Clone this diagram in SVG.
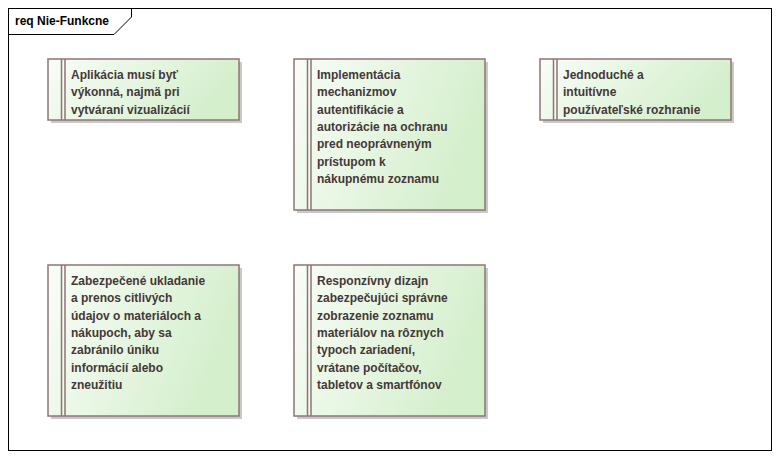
<svg xmlns="http://www.w3.org/2000/svg" width="780" height="459" viewBox="0 0 780 459">
<defs>
<linearGradient id="g" x1="0" y1="0" x2="1" y2="0.3">
<stop offset="0" stop-color="#f9fdf8"/>
<stop offset="1" stop-color="#d4efcc"/>
</linearGradient>
</defs>
<style>
.sh{fill:#c9c9c9}
.bx{fill:url(#g);stroke:#8f7474;stroke-width:1.5}
.ln{stroke:#8f7474;stroke-width:1.5}
.t{font-family:"Liberation Sans",Arial,sans-serif;font-weight:bold;font-size:12px;fill:#453838}
.fr{fill:none;stroke:#000;stroke-width:1}
.ft{font-family:"Liberation Sans",Arial,sans-serif;font-weight:bold;font-size:12px;fill:#000}
</style>
<rect width="780" height="459" fill="#fff"/>
<g id="frame">
<rect class="fr" x="8.5" y="8.5" width="763" height="442"/>
<path class="fr" d="M8.5 34.5 H114 L131.5 17 V8.5"/>
<text class="ft" x="15" y="25">req Nie-Funkcne</text>
</g>
<g id="connectors"/>
<g id="n1">
<rect class="sh" x="51" y="62" width="191" height="61"/>
<rect class="bx" x="48" y="59" width="191" height="61"/>
<line class="ln" x1="61.5" y1="59" x2="61.5" y2="120"/>
<line class="ln" x1="65" y1="59" x2="65" y2="120"/>
<text class="t" x="71" y="79">Aplikácia musí byť</text>
<text class="t" x="71" y="96.3">výkonná, najmä pri</text>
<text class="t" x="71" y="113.6">vytváraní vizualizácií</text>
</g>
<g id="n2">
<rect class="sh" x="297" y="62" width="191" height="151"/>
<rect class="bx" x="294" y="59" width="191" height="151"/>
<line class="ln" x1="307.5" y1="59" x2="307.5" y2="210"/>
<line class="ln" x1="311" y1="59" x2="311" y2="210"/>
<text class="t" x="317" y="79">Implementácia</text>
<text class="t" x="317" y="96.3">mechanizmov</text>
<text class="t" x="317" y="113.6">autentifikácie a</text>
<text class="t" x="317" y="130.9">autorizácie na ochranu</text>
<text class="t" x="317" y="148.2">pred neoprávneným</text>
<text class="t" x="317" y="165.5">prístupom k</text>
<text class="t" x="317" y="182.8">nákupnému zoznamu</text>
</g>
<g id="n3">
<rect class="sh" x="543" y="62" width="191" height="61"/>
<rect class="bx" x="540" y="59" width="191" height="61"/>
<line class="ln" x1="553.5" y1="59" x2="553.5" y2="120"/>
<line class="ln" x1="557" y1="59" x2="557" y2="120"/>
<text class="t" x="563" y="79">Jednoduché a</text>
<text class="t" x="563" y="96.3">intuitívne</text>
<text class="t" x="563" y="113.6">používateľské rozhranie</text>
</g>
<g id="n4">
<rect class="sh" x="51" y="268" width="191" height="151"/>
<rect class="bx" x="48" y="265" width="191" height="151"/>
<line class="ln" x1="61.5" y1="265" x2="61.5" y2="416"/>
<line class="ln" x1="65" y1="265" x2="65" y2="416"/>
<text class="t" x="71" y="285">Zabezpečené ukladanie</text>
<text class="t" x="71" y="302.3">a prenos citlivých</text>
<text class="t" x="71" y="319.6">údajov o materiáloch a</text>
<text class="t" x="71" y="336.9">nákupoch, aby sa</text>
<text class="t" x="71" y="354.2">zabránilo úniku</text>
<text class="t" x="71" y="371.5">informácií alebo</text>
<text class="t" x="71" y="388.8">zneužitiu</text>
</g>
<g id="n5">
<rect class="sh" x="297" y="268" width="191" height="151"/>
<rect class="bx" x="294" y="265" width="191" height="151"/>
<line class="ln" x1="307.5" y1="265" x2="307.5" y2="416"/>
<line class="ln" x1="311" y1="265" x2="311" y2="416"/>
<text class="t" x="317" y="285">Responzívny dizajn</text>
<text class="t" x="317" y="302.3">zabezpečujúci správne</text>
<text class="t" x="317" y="319.6">zobrazenie zoznamu</text>
<text class="t" x="317" y="336.9">materiálov na rôznych</text>
<text class="t" x="317" y="354.2">typoch zariadení,</text>
<text class="t" x="317" y="371.5">vrátane počítačov,</text>
<text class="t" x="317" y="388.8">tabletov a smartfónov</text>
</g>
</svg>
